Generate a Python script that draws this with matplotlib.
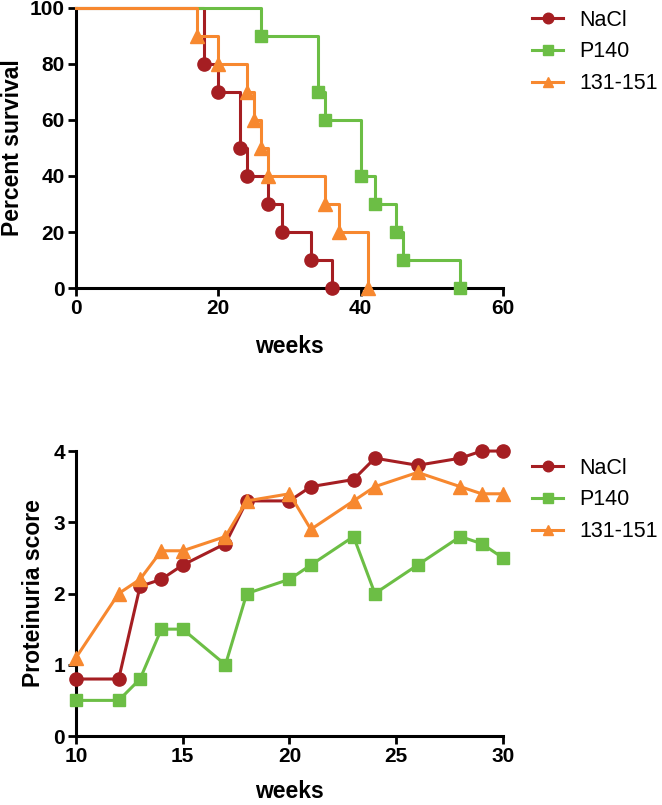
import matplotlib
matplotlib.use("Agg")
import matplotlib.pyplot as plt
import numpy as np

plt.rcParams['font.family'] = ['Liberation Sans', 'DejaVu Sans']

# ---- Survival data (Kaplan-Meier steps) ----
nacl_t = [0, 18, 20, 23, 24, 27, 29, 33, 36]
nacl_s = [100, 80, 70, 50, 40, 30, 20, 10, 0]
p140_t = [0, 26, 34, 35, 40, 42, 45, 46, 54]
p140_s = [100, 90, 70, 60, 40, 30, 20, 10, 0]
pep_t = [0, 17, 20, 24, 25, 26, 27, 35, 37, 41]
pep_s = [100, 90, 80, 70, 60, 50, 40, 30, 20, 0]

# ---- Proteinuria data ----
weeks = [10, 12, 13, 14, 15, 17, 18, 20, 21, 23, 24, 26, 28, 29, 30]
nacl_p = [0.8, 0.8, 2.1, 2.2, 2.4, 2.7, 3.3, 3.3, 3.5, 3.6, 3.9, 3.8, 3.9, 4.0, 4.0]
p140_p = [0.5, 0.5, 0.8, 1.5, 1.5, 1.0, 2.0, 2.2, 2.4, 2.8, 2.0, 2.4, 2.8, 2.7, 2.5]
pep_p = [1.1, 2.0, 2.2, 2.6, 2.6, 2.8, 3.3, 3.4, 2.9, 3.3, 3.5, 3.7, 3.5, 3.4, 3.4]

labels = ['NaCl', 'P140', '131-151']
colors = ['#A51E22', '#6CBE45', '#F7882F']
markers = ['o', 's', '^']
msizes = [9.5, 8.5, 9.5]

fig = plt.figure(figsize=(6.62, 8.05), dpi=100)
ax1 = fig.add_axes([0.1148, 0.6422, 0.645, 0.348])
ax2 = fig.add_axes([0.1148, 0.0857, 0.645, 0.354])

def style(ax):
    for s in ['top', 'right']:
        ax.spines[s].set_visible(False)
    for s in ['left', 'bottom']:
        ax.spines[s].set_linewidth(2.2)
        ax.spines[s].set_color('black')
    ax.tick_params(axis='both', direction='out', length=6, width=2, labelsize=15, pad=2)
    for lab in ax.get_xticklabels() + ax.get_yticklabels():
        lab.set_fontweight('bold')

surv = [(nacl_t, nacl_s), (p140_t, p140_s), (pep_t, pep_s)]
for (t, s), lab, c, m, ms in zip(surv, labels, colors, markers, msizes):
    ax1.plot(t, s, drawstyle='steps-post', color=c, lw=2.2, marker=m, ms=ms,
             markevery=slice(1, None), label=lab, clip_on=False, zorder=3)
ax1.set_xlim(0, 60)
ax1.set_ylim(0, 100)
ax1.set_xticks([0, 20, 40, 60])
ax1.set_yticks([0, 20, 40, 60, 80, 100])
style(ax1)
ax1.set_xlabel('weeks', fontsize=16.5, fontweight='bold', labelpad=12)
ax1.set_ylabel('Percent survival', fontsize=16.5, fontweight='bold', labelpad=4)

prot = [nacl_p, p140_p, pep_p]
for vals, lab, c, m, ms in zip(prot, labels, colors, markers, msizes):
    ax2.plot(weeks, vals, color=c, lw=2.2, marker=m, ms=ms, label=lab,
             clip_on=False, zorder=3)
ax2.set_xlim(10, 30)
ax2.set_ylim(0, 4)
ax2.set_xticks([10, 15, 20, 25, 30])
ax2.set_yticks([0, 1, 2, 3, 4])
style(ax2)
ax2.set_xlabel('weeks', fontsize=16.5, fontweight='bold', labelpad=10)
ax2.set_ylabel('Proteinuria score', fontsize=16.5, fontweight='bold', labelpad=6)

for ax, ytop in [(ax1, 0.988), (ax2, 0.4315)]:
    h, l = ax.get_legend_handles_labels()
    fig.legend(h, l, loc='upper left', bbox_to_anchor=(0.8036, ytop),
               frameon=False, fontsize=15.5, handlelength=1.45, handletextpad=0.75,
               labelspacing=0.5, borderpad=0, borderaxespad=0, markerscale=0.8)

fig.savefig('out.png', dpi=100)
